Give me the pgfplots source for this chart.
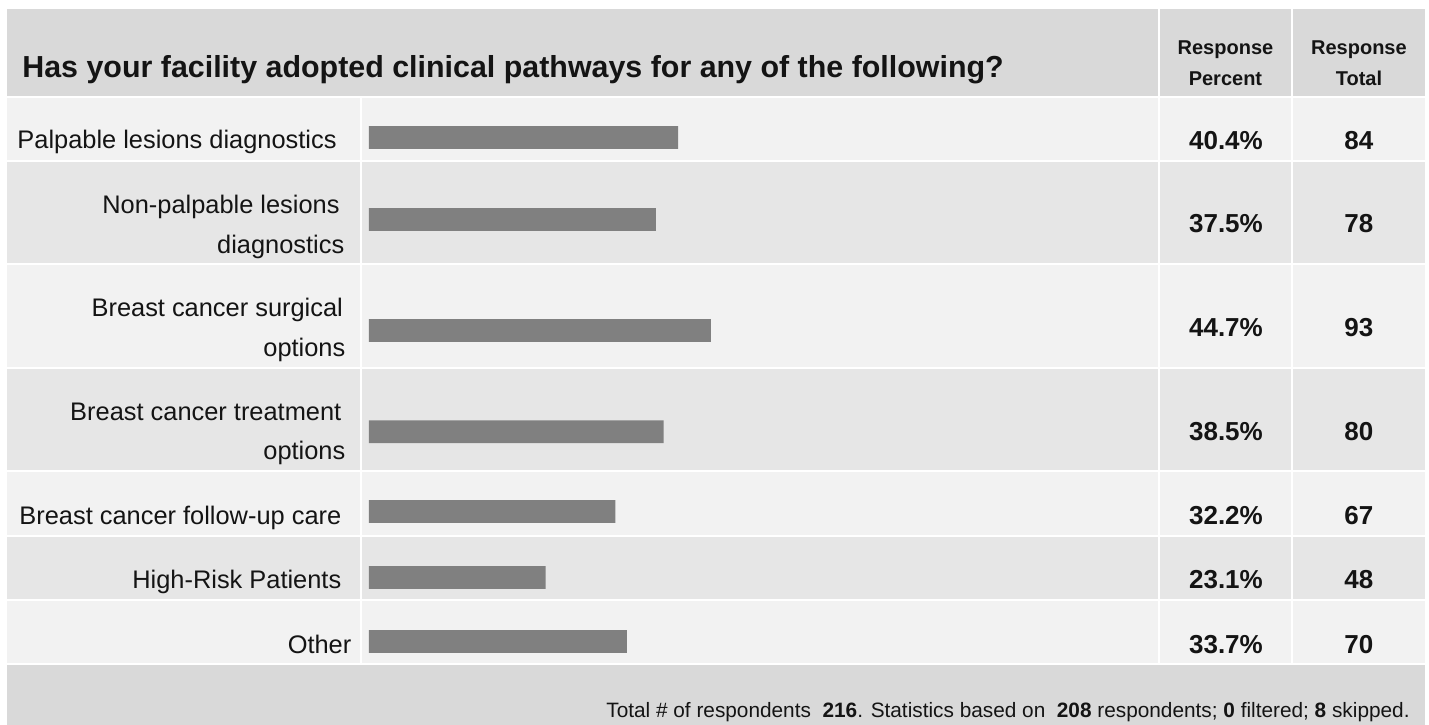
\documentclass[border=0pt]{standalone}
\usepackage{fontspec}
\setmainfont{Liberation Sans}
\usepackage{pgfplots}
\pgfplotsset{compat=1.18}
\definecolor{hdr}{HTML}{D9D9D9}
\definecolor{rowa}{HTML}{F2F2F2}
\definecolor{rowb}{HTML}{E6E6E6}
\definecolor{barc}{HTML}{808080}
\definecolor{txt}{HTML}{141414}
\newcommand{\px}[1]{{(#1-369)/7.65}}
\pgfplotstableread{
pct ypos
40.4 137.5
37.5 219.5
44.7 330.5
38.5 431.7
32.2 511.5
23.1 577.5
33.7 641.5
}\bars
\begin{document}
\begin{tikzpicture}
\begin{axis}[
  scale only axis, width=714.5pt, height=362.5pt,
  xmin=-48.23529, xmax=138.56209,
  ymin=0, ymax=725, y dir=reverse,
  hide axis, clip=false,
]
\fill[white] (axis cs:\px{0},0) rectangle (axis cs:\px{1429},725);
\fill[hdr] (axis cs:\px{7},9) rectangle (axis cs:\px{1425},96.5);
\fill[rowa] (axis cs:\px{7},96.5) rectangle (axis cs:\px{1425},160.5);
\fill[rowb] (axis cs:\px{7},160.5) rectangle (axis cs:\px{1425},263.5);
\fill[rowa] (axis cs:\px{7},263.5) rectangle (axis cs:\px{1425},368.5);
\fill[rowb] (axis cs:\px{7},368.5) rectangle (axis cs:\px{1425},471.5);
\fill[rowa] (axis cs:\px{7},471.5) rectangle (axis cs:\px{1425},536.5);
\fill[rowb] (axis cs:\px{7},536.5) rectangle (axis cs:\px{1425},600.5);
\fill[rowa] (axis cs:\px{7},600.5) rectangle (axis cs:\px{1425},664.5);
\fill[hdr] (axis cs:\px{7},664.5) rectangle (axis cs:\px{1425},725);
% white separators
\draw[white, line width=1pt] (axis cs:\px{7},96.5) -- (axis cs:\px{1425},96.5);
\draw[white, line width=1pt] (axis cs:\px{7},160.5) -- (axis cs:\px{1425},160.5);
\draw[white, line width=1pt] (axis cs:\px{7},263.5) -- (axis cs:\px{1425},263.5);
\draw[white, line width=1pt] (axis cs:\px{7},368.5) -- (axis cs:\px{1425},368.5);
\draw[white, line width=1pt] (axis cs:\px{7},471.5) -- (axis cs:\px{1425},471.5);
\draw[white, line width=1pt] (axis cs:\px{7},536.5) -- (axis cs:\px{1425},536.5);
\draw[white, line width=1pt] (axis cs:\px{7},600.5) -- (axis cs:\px{1425},600.5);
\draw[white, line width=1pt] (axis cs:\px{7},664.5) -- (axis cs:\px{1425},664.5);
\draw[white, line width=1pt] (axis cs:\px{361.5},96.5) -- (axis cs:\px{361.5},664.5);
\draw[white, line width=1pt] (axis cs:\px{1159.5},9) -- (axis cs:\px{1159.5},664.5);
\draw[white, line width=1pt] (axis cs:\px{1292.5},9) -- (axis cs:\px{1292.5},664.5);

\addplot[xbar, bar width=22.7, fill=barc, draw=none] table[x=pct, y=ypos] {\bars};

\begin{scope}[every node/.style={inner sep=0pt, text=txt}]
% title
\node[anchor=base west, font=\fontsize{15.2}{18}\selectfont\bfseries] at (axis cs:\px{22},77.3) {Has your facility adopted clinical pathways for any of the following?};
% column headers
\begin{scope}[every node/.append style={anchor=base, font=\fontsize{10}{12}\selectfont\bfseries}]
\node at (axis cs:\px{1225.5},54) {Response};
\node at (axis cs:\px{1225.5},85.7) {Percent};
\node at (axis cs:\px{1359},54) {Response};
\node at (axis cs:\px{1359},85.7) {Total};
\end{scope}
% row labels
\begin{scope}[every node/.append style={anchor=base east, font=\fontsize{12.7}{15}\selectfont}]
\node at (axis cs:\px{337},148.3) {Palpable lesions diagnostics};
\node at (axis cs:\px{340},213.3) {Non-palpable lesions};
\node at (axis cs:\px{344.7},253) {diagnostics};
\node at (axis cs:\px{343.3},316.7) {Breast cancer surgical};
\node at (axis cs:\px{345.7},356.7) {options};
\node at (axis cs:\px{341.7},420.7) {Breast cancer treatment};
\node at (axis cs:\px{345.7},460) {options};
\node at (axis cs:\px{341.7},525) {Breast cancer follow-up care};
\node at (axis cs:\px{341.7},588.3) {High-Risk Patients};
\node at (axis cs:\px{351.7},653.3) {Other};
\end{scope}
% values
\begin{scope}[every node/.append style={anchor=base, font=\fontsize{13}{15}\selectfont\bfseries}]
\node at (axis cs:\px{1226},149) {40.4\%};
\node at (axis cs:\px{1226},232.7) {37.5\%};
\node at (axis cs:\px{1226},336.7) {44.7\%};
\node at (axis cs:\px{1226},441) {38.5\%};
\node at (axis cs:\px{1226},525) {32.2\%};
\node at (axis cs:\px{1226},588.3) {23.1\%};
\node at (axis cs:\px{1226},653.3) {33.7\%};
\node at (axis cs:\px{1359},149) {84};
\node at (axis cs:\px{1359},232.7) {78};
\node at (axis cs:\px{1359},336.7) {93};
\node at (axis cs:\px{1359},441) {80};
\node at (axis cs:\px{1359},525) {67};
\node at (axis cs:\px{1359},588.3) {48};
\node at (axis cs:\px{1359},653.3) {70};
\end{scope}
% footer
\node[anchor=base east, font=\fontsize{10.4}{12}\selectfont] at (axis cs:\px{1410},718) {Total \# of respondents\ \ \textbf{216}. Statistics based on\ \ \textbf{208} respondents;\ \textbf{0} filtered;\ \textbf{8} skipped.};
\end{scope}
\end{axis}
\end{tikzpicture}
\end{document}
